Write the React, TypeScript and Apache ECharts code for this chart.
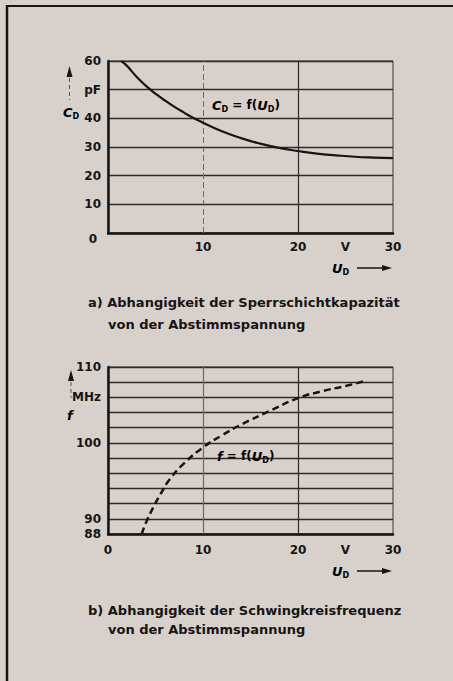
import React, { useEffect, useRef } from "react";
import * as echarts from "echarts";

// Top chart: junction capacitance C_D vs. tuning voltage U_D
const uTop = [1.4, 2, 3, 4, 5, 6, 7, 8, 9, 10, 12, 14, 16, 18, 20, 22, 24, 26, 28, 30];
const cTop = [60, 58.3, 54.5, 51.3, 48.6, 46.2, 44, 42, 40.1, 38.5, 35.5, 33.1, 31.2, 29.7, 28.6, 27.7, 27.1, 26.6, 26.3, 26.1];

// Bottom chart: resonant frequency f vs. tuning voltage U_D
const uBot = [3.55, 4, 4.8, 5.5, 6.5, 8, 10, 12, 14, 17, 20, 22.5, 25, 27.2];
const fBot = [88, 89.5, 91.6, 93.2, 95.2, 97.3, 99.4, 101, 102.4, 104.2, 105.9, 106.8, 107.5, 108.2];

const xTickValues = [0, 5, 10, 15, 20, 25, 30];
const topXTickLabels = ["", "", "10", "", "20", "V", "30"];
const botXTickLabels = ["0", "", "10", "", "20", "V", "30"];

const topYTickValues = [0, 10, 20, 30, 40, 50, 60];
const topYTickLabels = ["0", "10", "20", "30", "40", "pF", "60"];

const botYTickValues = [88, 90, 100, 106, 110];
const botYTickLabels = ["88", "90", "100", "MHz", "110"];

const verticalGridU = [10, 20];

const captionA = ["a) Abhangigkeit der Sperrschichtkapazität", "von der Abstimmspannung"];
const captionB = ["b) Abhangigkeit der Schwingkreisfrequenz", "von der Abstimmspannung"];

const FONT = "DejaVu Sans";
const INK = "#161414";
const BG = "#d8d0cb";

const subRich = {
  i: { fontFamily: FONT, fontStyle: "italic", fontWeight: "bold", fontSize: 13, color: INK, lineHeight: 16, verticalAlign: "middle" },
  s: { fontFamily: FONT, fontWeight: "bold", fontSize: 8, color: INK, lineHeight: 16, verticalAlign: "bottom", padding: [6, 0, 0, 0] },
  n: { fontFamily: FONT, fontWeight: "bold", fontSize: 12, color: INK, lineHeight: 16, verticalAlign: "middle" },
};

function xLabel(labels: string[]) {
  return (v: number) => {
    const i = xTickValues.indexOf(v);
    return i >= 0 ? labels[i] : "";
  };
}

function App() {
  const ref = useRef<HTMLDivElement>(null);
  useEffect(() => {
    if (!ref.current) return;
    const chart = echarts.init(ref.current, null, { renderer: "svg" });
    const axisLabelBase = { fontFamily: FONT, fontWeight: "bold", fontSize: 12, color: INK };
    const captionStyle = { fontFamily: FONT, fontWeight: "bold", fontSize: 13, fill: INK, verticalAlign: "middle" };
    const option: any = {
      animation: false,
      backgroundColor: BG,
      grid: [
        { left: 108, top: 61, width: 285, height: 172, show: true, borderColor: "#3a3535", borderWidth: 1 },
        { left: 108, top: 367, width: 285, height: 167, show: true, borderColor: "#3a3535", borderWidth: 1 },
      ],
      xAxis: [
        {
          gridIndex: 0, type: "value", min: 0, max: 30, interval: 5,
          axisLine: { lineStyle: { color: INK, width: 2.5 } },
          axisTick: { show: false }, splitLine: { show: false },
          axisLabel: { ...axisLabelBase, margin: 8, formatter: xLabel(topXTickLabels) },
        },
        {
          gridIndex: 1, type: "value", min: 0, max: 30, interval: 5,
          axisLine: { lineStyle: { color: INK, width: 2.5 } },
          axisTick: { show: false }, splitLine: { show: false },
          axisLabel: { ...axisLabelBase, margin: 10, formatter: xLabel(botXTickLabels) },
        },
      ],
      yAxis: [
        {
          gridIndex: 0, type: "value", min: 0, max: 60, interval: 10,
          axisLine: { show: true, lineStyle: { color: INK, width: 2.5 } },
          axisTick: { show: false },
          splitLine: { lineStyle: { color: "#2e2a2a", width: 1.3 } },
          axisLabel: {
            ...axisLabelBase, margin: 7,
            formatter: (v: number) => {
              const i = topYTickValues.indexOf(v);
              if (i < 0) return "";
              return v === 0 ? "{z|" + topYTickLabels[i] + "}" : topYTickLabels[i];
            },
            rich: { z: { ...axisLabelBase, padding: [12, 4, 0, 0] } },
          },
        },
        {
          gridIndex: 1, type: "value", min: 88, max: 110, interval: 2,
          axisLine: { show: true, lineStyle: { color: INK, width: 2.5 } },
          axisTick: { show: false },
          splitLine: { lineStyle: { color: "#2e2a2a", width: 1.3 } },
          axisLabel: {
            ...axisLabelBase, margin: 7,
            formatter: (v: number) => {
              const i = botYTickValues.indexOf(v);
              return i >= 0 ? botYTickLabels[i] : "";
            },
          },
        },
      ],
      series: [
        {
          type: "line", xAxisIndex: 0, yAxisIndex: 0, smooth: true, symbol: "none",
          data: uTop.map((u, i) => [u, cTop[i]]),
          lineStyle: { color: INK, width: 2.2 },
          markLine: {
            silent: true, symbol: "none", label: { show: false },
            data: [
              { xAxis: verticalGridU[0], lineStyle: { color: "#6e6868", width: 1, type: [6, 3] } },
              { xAxis: verticalGridU[1], lineStyle: { color: "#2e2a2a", width: 1.2, type: "solid" } },
            ],
          },
          z: 5,
        },
        {
          type: "line", xAxisIndex: 1, yAxisIndex: 1, smooth: true, symbol: "none",
          data: uBot.map((u, i) => [u, fBot[i]]),
          lineStyle: { color: INK, width: 2.5, type: [7, 4] },
          markLine: {
            silent: true, symbol: "none", label: { show: false },
            data: [
              { xAxis: verticalGridU[0], lineStyle: { color: "#6e6868", width: 1.2, type: "solid" } },
              { xAxis: verticalGridU[1], lineStyle: { color: "#2e2a2a", width: 1.2, type: "solid" } },
            ],
          },
          z: 5,
        },
      ],
      graphic: [
        // outer frame
        { type: "line", shape: { x1: 7, y1: 5, x2: 7, y2: 681 }, style: { stroke: INK, lineWidth: 2.5 } },
        { type: "line", shape: { x1: 6, y1: 6, x2: 453, y2: 6 }, style: { stroke: INK, lineWidth: 2 } },
        // top y-axis name with arrow
        { type: "polygon", shape: { points: [[66.5, 77], [69.5, 66], [72.5, 77]] }, style: { fill: INK } },
        { type: "line", shape: { x1: 69.5, y1: 78, x2: 69.5, y2: 100 }, style: { stroke: "#555", lineWidth: 1, lineDash: [4, 3] } },
        { type: "text", x: 63, y: 112, style: { text: "{i|C}{s|D}", rich: subRich, verticalAlign: "middle" } },
        // bottom y-axis name with arrow
        { type: "polygon", shape: { points: [[68, 381], [71, 370], [74, 381]] }, style: { fill: INK } },
        { type: "line", shape: { x1: 71, y1: 382, x2: 71, y2: 398 }, style: { stroke: "#555", lineWidth: 1, lineDash: [4, 3] } },
        { type: "text", x: 67, y: 415, style: { text: "{i|f}", rich: subRich, verticalAlign: "middle" } },
        // top x-axis name
        { type: "text", x: 332, y: 268, style: { text: "{i|U}{s|D}", rich: subRich, verticalAlign: "middle" } },
        { type: "line", shape: { x1: 357, y1: 268, x2: 384, y2: 268 }, style: { stroke: INK, lineWidth: 1.5 } },
        { type: "polygon", shape: { points: [[382, 265], [392, 268], [382, 271]] }, style: { fill: INK } },
        // bottom x-axis name
        { type: "text", x: 332, y: 571, style: { text: "{i|U}{s|D}", rich: subRich, verticalAlign: "middle" } },
        { type: "line", shape: { x1: 357, y1: 571, x2: 384, y2: 571 }, style: { stroke: INK, lineWidth: 1.5 } },
        { type: "polygon", shape: { points: [[382, 568], [392, 571], [382, 574]] }, style: { fill: INK } },
        // curve annotations
        { type: "text", x: 212, y: 105, z: 10, style: { text: "{i|C}{s|D}{n| = f(}{i|U}{s|D}{n|)}", rich: subRich, verticalAlign: "middle" } },
        { type: "text", x: 217, y: 456, z: 10, style: { text: "{i|f}{n| = f(}{i|U}{s|D}{n|)}", rich: subRich, verticalAlign: "middle" } },
        // captions
        { type: "text", x: 88, y: 302, style: { text: captionA[0], ...captionStyle } },
        { type: "text", x: 108, y: 324, style: { text: captionA[1], ...captionStyle } },
        { type: "text", x: 88, y: 610, style: { text: captionB[0], ...captionStyle } },
        { type: "text", x: 108, y: 629, style: { text: captionB[1], ...captionStyle } },
      ],
    };
    chart.setOption(option);
    return () => chart.dispose();
  }, []);
  return (
    <div
      ref={ref}
      style={{ position: "fixed", left: 0, top: 0, width: 453, height: 681, background: BG }}
    />
  );
}

export default App;
